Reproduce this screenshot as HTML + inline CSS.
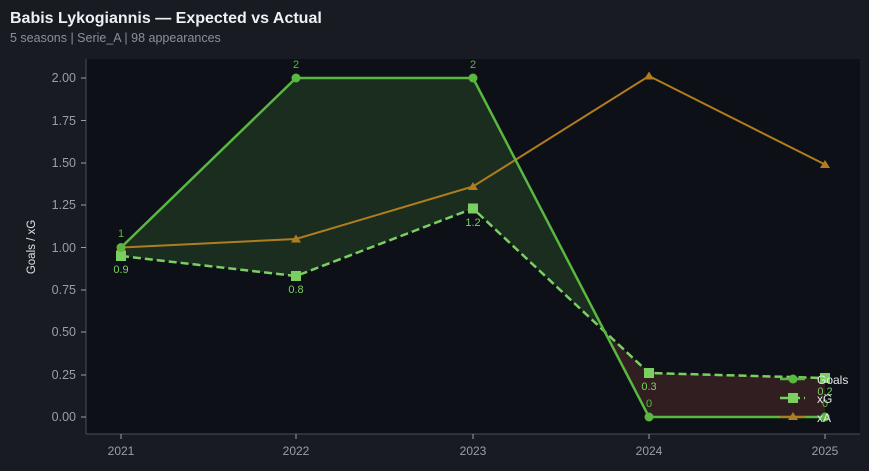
<!DOCTYPE html>
<html><head><meta charset="utf-8"><style>
body{margin:0;background:#181b22;width:869px;height:466px;overflow:hidden;font-family:"Liberation Sans",sans-serif}
</style></head><body>
<svg width="869" height="466" xmlns="http://www.w3.org/2000/svg" font-family="Liberation Sans, sans-serif">
<rect width="869" height="466" fill="#181b22"/>
<text x="10" y="23" fill="#eef0f4" font-size="16" font-weight="bold">Babis Lykogiannis — Expected vs Actual</text>
<text x="10" y="42" fill="#8a8f99" font-size="12.5">5 seasons | Serie_A | 98 appearances</text>
<rect x="86" y="59" width="774" height="375" fill="#0d1016"/>
<line x1="86" y1="59" x2="86" y2="434" stroke="#4a4e57"/>
<line x1="86" y1="434" x2="860" y2="434" stroke="#4a4e57"/>
<g fill="#9a9ea8" font-size="12.5" text-anchor="end">
<text x="76" y="82">2.00</text><text x="76" y="125">1.75</text><text x="76" y="167">1.50</text><text x="76" y="209">1.25</text><text x="76" y="252">1.00</text><text x="76" y="294">0.75</text><text x="76" y="336">0.50</text><text x="76" y="379">0.25</text><text x="76" y="421">0.00</text>
</g>
<g stroke="#9a9ea8"><line x1="81" y1="78" x2="86" y2="78"/><line x1="81" y1="120.5" x2="86" y2="120.5"/><line x1="81" y1="163" x2="86" y2="163"/><line x1="81" y1="205" x2="86" y2="205"/><line x1="81" y1="247.5" x2="86" y2="247.5"/><line x1="81" y1="290" x2="86" y2="290"/><line x1="81" y1="332" x2="86" y2="332"/><line x1="81" y1="375" x2="86" y2="375"/><line x1="81" y1="417" x2="86" y2="417"/>
<line x1="121" y1="434" x2="121" y2="439"/><line x1="296" y1="434" x2="296" y2="439"/><line x1="473" y1="434" x2="473" y2="439"/><line x1="649" y1="434" x2="649" y2="439"/><line x1="825" y1="434" x2="825" y2="439"/></g>
<g fill="#9a9ea8" font-size="12" text-anchor="middle">
<text x="121" y="455">2021</text><text x="296" y="455">2022</text><text x="473" y="455">2023</text><text x="649" y="455">2024</text><text x="825" y="455">2025</text></g>
<text transform="translate(35,247) rotate(-90)" fill="#e0e2e6" font-size="11.5" text-anchor="middle">Goals / xG</text>
<polygon points="121,247.5 296,78 473,78 604.6,331.5 473,208.5 296,276 121,256" fill="#1b2d1f"/>
<polygon points="604.6,331.5 649,417 825,417 825,378 649,373" fill="#301e20"/>
<polyline points="121,247.5 296,239 473,186.5 649,76 825,164.5" fill="none" stroke="#b07d1e" stroke-width="2"/>
<g fill="#b07d1e"><path d="M121,243l5,8h-10z"/><path d="M296,234.5l5,8h-10z"/><path d="M473,182l5,8h-10z"/><path d="M649,71.5l5,8h-10z"/><path d="M825,160l5,8h-10z"/></g>
<polyline points="121,256 296,276 473,208.5 649,373 825,378" fill="none" stroke="#7bcf62" stroke-width="2.5" stroke-dasharray="8,4"/>
<g fill="#7bcf62"><rect x="116" y="251" width="10" height="10"/><rect x="291" y="271" width="10" height="10"/><rect x="468" y="203.5" width="10" height="10"/><rect x="644" y="368" width="10" height="10"/><rect x="820" y="373" width="10" height="10"/></g>
<polyline points="121,247.5 296,78 473,78 649,417 825,417" fill="none" stroke="#58b840" stroke-width="2.5"/>
<g fill="#58b840"><circle cx="121" cy="247.5" r="4.5"/><circle cx="296" cy="78" r="4.5"/><circle cx="473" cy="78" r="4.5"/><circle cx="649" cy="417" r="4.5"/><circle cx="825" cy="417" r="4.5"/></g>
<g fill="#58b840" font-size="11" text-anchor="middle"><text x="121" y="237">1</text><text x="296" y="68">2</text><text x="473" y="68">2</text><text x="649" y="407">0</text><text x="825" y="407">0</text></g>
<g fill="#7bcf62" font-size="11" text-anchor="middle"><text x="121" y="273">0.9</text><text x="296" y="293">0.8</text><text x="473" y="226">1.2</text><text x="649" y="390">0.3</text><text x="825" y="395">0.2</text></g>
<line x1="780" y1="379" x2="805" y2="379" stroke="#58b840" stroke-width="2.5"/><circle cx="793" cy="379" r="4.5" fill="#58b840"/>
<line x1="780" y1="398" x2="805" y2="398" stroke="#7bcf62" stroke-width="2.5" stroke-dasharray="8,4"/><rect x="788" y="393" width="10" height="10" fill="#7bcf62"/>
<line x1="780" y1="417" x2="805" y2="417" stroke="#b07d1e" stroke-width="2"/><path d="M793,412l5,8h-10z" fill="#b07d1e"/>
<g fill="#e6e8ec" font-size="12"><text x="817" y="384">Goals</text><text x="817" y="403">xG</text><text x="817" y="422">xA</text></g>
</svg>
</body></html>
